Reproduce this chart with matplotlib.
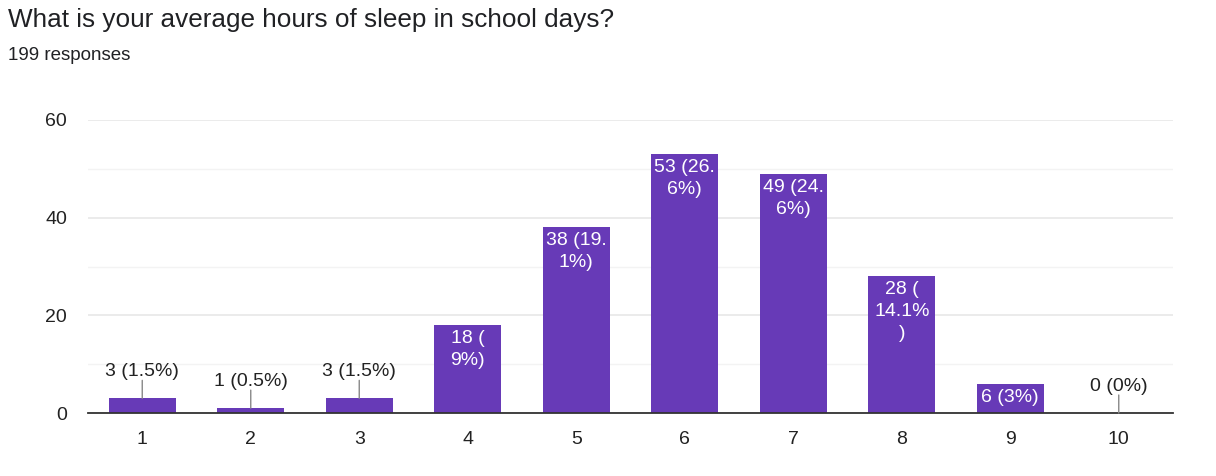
import numpy as np
import matplotlib.pyplot as plt

plt.rcParams['font.family'] = ['Liberation Sans', 'DejaVu Sans']

hours = ["1", "2", "3", "4", "5", "6", "7", "8", "9", "10"]
counts = [3, 1, 3, 18, 38, 53, 49, 28, 6, 0]
labels = ["3 (1.5%)", "1 (0.5%)", "3 (1.5%)", "18 (\n9%)", "38 (19.\n1%)",
          "53 (26.\n6%)", "49 (24.\n6%)", "28 (\n14.1%\n)", "6 (3%)", "0 (0%)"]
# label drawn inside the bar (True) or above it with a leader line (False)
inside = [False, False, False, True, True, True, True, True, True, False]

title = "What is your average hours of sleep in school days?"
subtitle = "199 responses"
bar_color = "#673ab7"

fig = plt.figure(figsize=(12.16, 4.76), dpi=100)
ax = fig.add_axes([88/1216, 1-413/476, (1173-88)/1216, (413-120)/476])

x = np.arange(1, len(hours)+1)
ax.bar(x, counts, width=0.62, color=bar_color, zorder=3)

ax.set_xlim(0.5, 10.5)
ax.set_ylim(0, 60)
ax.set_yticks([0, 20, 40, 60])
ax.set_yticks([10, 30, 50], minor=True)
ax.set_xticks(x)
ax.set_xticklabels(hours)
ax.grid(axis='y', which='major', color='#e8e8e8', lw=1.2, zorder=0)
ax.grid(axis='y', which='minor', color='#f3f3f3', lw=1.0, zorder=0)
ax.tick_params(axis='both', which='both', length=0, labelsize=14, colors='#222222')
ax.tick_params(axis='x', pad=13)
ax.tick_params(axis='y', pad=15)
for s in ['top', 'right', 'left']:
    ax.spines[s].set_visible(False)
ax.spines['bottom'].set_color('#333333')
ax.spines['bottom'].set_linewidth(1.3)
ax.spines['bottom'].set_zorder(4)

for xi, c, lab, ins in zip(x, counts, labels, inside):
    if ins:
        ax.annotate(lab, (xi, c), xytext=(0, -5), textcoords='offset pixels',
                    ha='center', va='top', color='white', fontsize=14,
                    linespacing=1.38, zorder=5)
    else:
        ax.annotate("", (xi, c), xytext=(0, 18), textcoords='offset pixels',
                    arrowprops=dict(arrowstyle='-', color='#888888', lw=1,
                                    shrinkA=0, shrinkB=0), zorder=5)
        ax.annotate(lab, (xi, c), xytext=(0, 18), textcoords='offset pixels',
                    ha='center', va='bottom', color='#222222', fontsize=14,
                    zorder=5)

fig.text(8/1216, 1-20/476, title, fontsize=18.8, color='#202124', va='center')
fig.text(8/1216, 1-55/476, subtitle, fontsize=13.5, color='#202124', va='center')

fig.savefig("out.png", dpi=100, facecolor='white')
